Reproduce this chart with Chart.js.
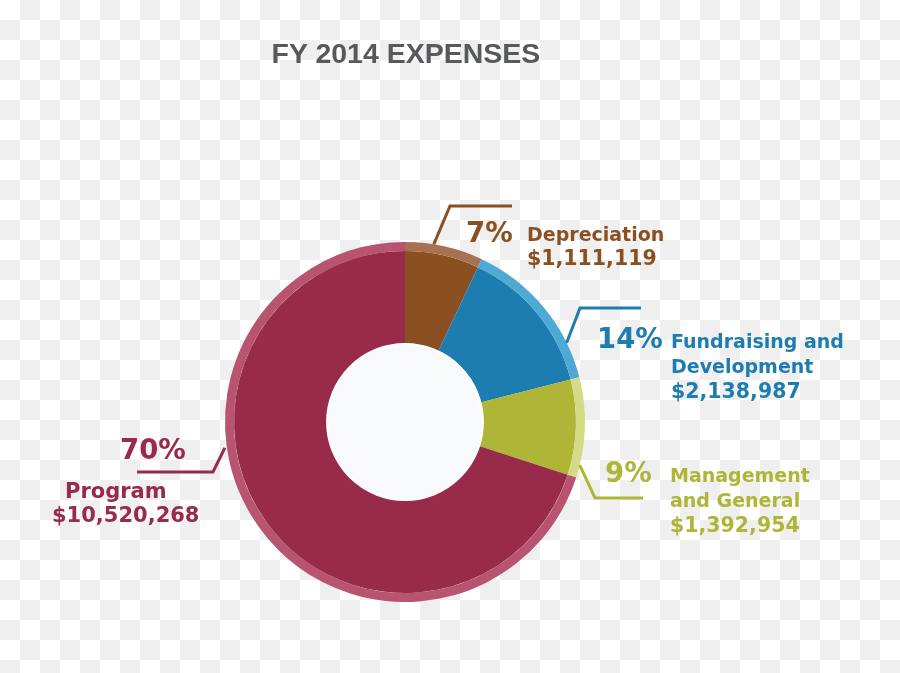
<!DOCTYPE html>
<html>
<head>
<meta charset="utf-8">
<script src="https://cdn.jsdelivr.net/npm/chart.js@4.4.1/dist/chart.umd.min.js"></script>
<style>
    html, body { margin:0; padding:0; }
    body {
        width:900px; height:673px; overflow:hidden; position:relative;
        background: conic-gradient(#efefef 25%, #fff 0 50%, #efefef 0 75%, #fff 0) 0 0 / 40px 40px;
    }
    #chart { position:absolute; left:0; top:0; }
    #labels { position:absolute; left:0; top:0; }
    .title { font-family:"Liberation Sans", Arial, sans-serif; font-weight:bold; font-size:28.5px; fill:#58595b; }
    .pct { font-family:"DejaVu Sans", sans-serif; font-weight:bold; font-size:27.5px; }
    .txt { font-family:"DejaVu Sans", sans-serif; font-weight:bold; font-size:19px; }
    .amt { font-family:"DejaVu Sans", sans-serif; font-weight:bold; font-size:20.5px; }
    .big { font-size:21px; }
</style>
</head>
<body>
<canvas id="chart" width="900" height="673"></canvas>
<svg id="labels" width="900" height="673"></svg>
<script>
const title = "FY 2014 EXPENSES";
const categories = ["Depreciation", "Fundraising and Development", "Management and General", "Program"];
const shares = [7, 14, 9, 70];
const amounts = ["$1,111,119", "$2,138,987", "$1,392,954", "$10,520,268"];
const mainColors = ["#8b5022", "#1d7db1", "#afb536", "#982a4a"];
const ringColors = ["#a87252", "#4eaad5", "#d5da84", "#b85470"];

/* label layout: where each callout text sits and where its leader line runs */
const labelLines = [["Depreciation"], ["Fundraising and", "Development"], ["Management", "and General"], ["Program"]];
const layout = [
    {pct:[466,242], text:[527,241], amtX:527, step:24, angle:9.2,   r:0, elbow:[450,206], end:[512,206]},
    {pct:[597,348], text:[671,348], amtX:671, step:25, angle:63.9,  r:0, elbow:[580,308], end:[641,308]},
    {pct:[605,482], text:[670,482], amtX:670, step:25, angle:103.9, r:0, elbow:[595,498], end:[643,498]},
    {pct:[120,459], text:[65,498],  amtX:52,  step:24, angle:261.8, r:2, elbow:[213,472], end:[137,472], big:true}
];

const calloutPlugin = {
    id: "callouts",
    afterDatasetsDraw(chart) {
        const ctx = chart.ctx;
        const inner = chart.getDatasetMeta(1).data[0];
        const outer = chart.getDatasetMeta(0).data[0];
        const cx = inner.x, cy = inner.y;

        /* centre hole */
        ctx.save();
        ctx.beginPath();
        ctx.arc(cx, cy, inner.innerRadius, 0, Math.PI*2);
        ctx.fillStyle = "#f8f9fb";
        ctx.fill();
        ctx.lineWidth = 2;
        ctx.strokeStyle = "#ffffff";
        ctx.stroke();

        /* leader lines */
        ctx.lineWidth = 3;
        ctx.lineJoin = "miter";
        layout.forEach((c, i) => {
            const a = (c.angle - 90) * Math.PI / 180;
            const r = outer.outerRadius + c.r;
            ctx.beginPath();
            ctx.moveTo(cx + r*Math.cos(a), cy + r*Math.sin(a));
            ctx.lineTo(c.elbow[0], c.elbow[1]);
            ctx.lineTo(c.end[0], c.end[1]);
            ctx.strokeStyle = mainColors[i];
            ctx.stroke();
        });
        ctx.restore();
    }
};

new Chart(document.getElementById("chart"), {
    type: "doughnut",
    data: {
        labels: categories,
        datasets: [
            {data: shares, backgroundColor: ringColors, borderWidth: 0, weight: 9},
            {data: shares, backgroundColor: mainColors, borderWidth: 0, weight: 93}
        ]
    },
    options: {
        responsive: false,
        animation: false,
        cutout: "43.3%",
        layout: {padding: {left:225, right:315, top:242, bottom:71}},
        plugins: {legend: {display:false}, tooltip: {enabled:false}, title: {display:false}}
    },
    plugins: [calloutPlugin]
});

/* text as svg */
const svg = document.getElementById("labels");
function addText(str, x, y, cls, color, anchor) {
    const t = document.createElementNS("http://www.w3.org/2000/svg", "text");
    t.setAttribute("x", x);
    t.setAttribute("y", y);
    t.setAttribute("class", cls);
    if (color) t.setAttribute("fill", color);
    if (anchor) t.setAttribute("text-anchor", anchor);
    t.textContent = str;
    svg.appendChild(t);
}
addText(title, 406, 63, "title", null, "middle");
categories.forEach((c, i) => {
    const L = layout[i];
    const extra = L.big ? " big" : "";
    addText(shares[i] + "%", L.pct[0], L.pct[1], "pct", mainColors[i]);
    labelLines[i].forEach((s, j) => {
        addText(s, L.text[0], L.text[1] + j*L.step, "txt" + extra, mainColors[i]);
    });
    addText(amounts[i], L.amtX, L.text[1] + labelLines[i].length*L.step, "amt" + extra, mainColors[i]);
});
</script>
</body>
</html>
